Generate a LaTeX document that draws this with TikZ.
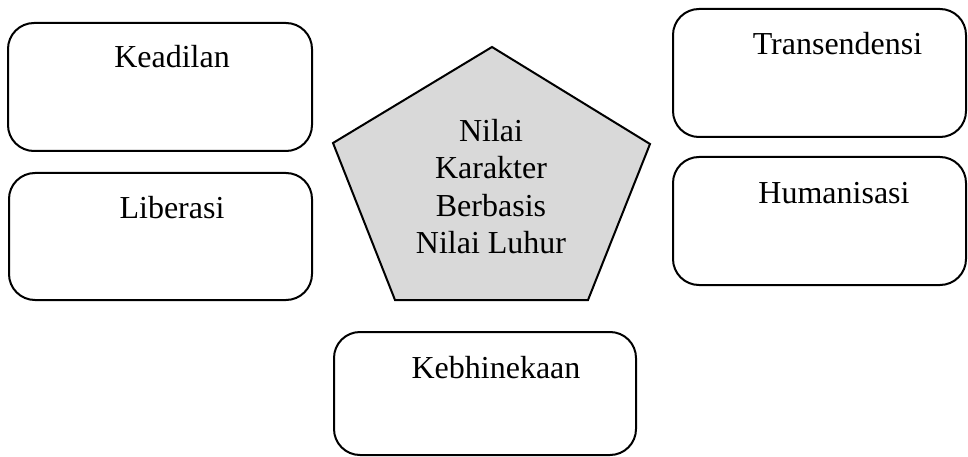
\documentclass[tikz,border=0pt]{standalone}
\usepackage{fontspec}
\setmainfont{Liberation Serif}
\definecolor{coregray}{rgb}{0.85, 0.85, 0.85}
\usepackage{tikz}
\usetikzlibrary{shapes, shapes.geometric, calc}

\tikzset{
    valuebox/.style = {rectangle, draw, line width = 2pt, rounded corners = 26pt, inner sep = 0pt},
    boxlabel/.style = {anchor = base, inner sep = 0pt, font = \fontsize{32}{37}\selectfont}
}

\begin{document}
\begin{tikzpicture}[x = 1pt, y = -1pt]
        \useasboundingbox (0,0) rectangle (968,457);

        \node (keadilan) [valuebox, minimum width = 304, minimum height = 128] at (160,87) {};
        \node (liberasi) [valuebox, minimum width = 303, minimum height = 127] at (160.5,236.5) {};
        \node (transendensi) [valuebox, minimum width = 293, minimum height = 128] at (819.5,73) {};
        \node (humanisasi) [valuebox, minimum width = 293, minimum height = 128] at (819.5,221) {};
        \node (kebhinekaan) [valuebox, minimum width = 302, minimum height = 123] at (485,393.5) {};

        \node (keadilanText) [boxlabel] at (172,68) {Keadilan};
        \node (liberasiText) [boxlabel] at (172,218) {Liberasi};
        \node (transendensiText) [boxlabel] at (837.5,55) {Transendensi};
        \node (humanisasiText) [boxlabel] at (834,203) {Humanisasi};
        \node (kebhinekaanText) [boxlabel] at (496,378) {Kebhinekaan};

        % pentagon
        \draw [fill = coregray, line width = 2pt, line join = miter]
            (492,47) -- (650,144) -- (588,300) -- (395,300) -- (333,143) -- cycle;
        \node (nilai) [inner sep = 0pt, align = center, font = \fontsize{32}{37.2}\selectfont] at (491,186.5)
            {Nilai\\Karakter\\Berbasis\\Nilai Luhur};
    \end{tikzpicture}
\end{document}
